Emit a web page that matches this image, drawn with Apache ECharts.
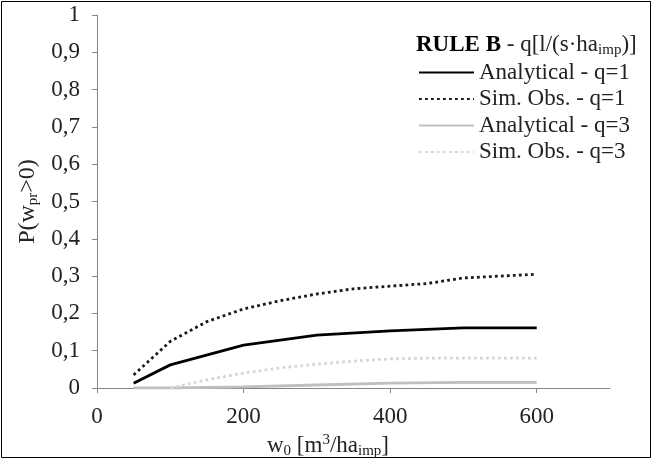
<!DOCTYPE html>
<html>
<head>
<meta charset="utf-8">
<script src="https://cdn.jsdelivr.net/npm/echarts@6/dist/echarts.min.js"></script>
<style>html,body{margin:0;padding:0;background:#fff}#c{width:652px;height:459px}</style>
</head>
<body>
<div id="c"></div>
<script>
const xTicks = [0, 200, 400, 600];
const yTicks = [0, 0.1, 0.2, 0.3, 0.4, 0.5, 0.6, 0.7, 0.8, 0.9, 1];
const analyticalQ1X = [50, 100, 200, 300, 400, 500, 600];
const analyticalQ1 = [0.013, 0.062, 0.115, 0.142, 0.153, 0.161, 0.161];
const simQ1X = [50, 100, 150, 200, 250, 300, 350, 400, 450, 500, 550, 600];
const simQ1 = [0.035, 0.125, 0.178, 0.212, 0.234, 0.252, 0.266, 0.273, 0.28, 0.295, 0.3, 0.305];
const analyticalQ3X = [50, 100, 200, 300, 400, 500, 600];
const analyticalQ3 = [0, 0, 0.003, 0.008, 0.013, 0.015, 0.015];
const simQ3X = [100, 150, 200, 250, 300, 350, 400, 450, 500, 550, 600];
const simQ3 = [0, 0.022, 0.04, 0.054, 0.064, 0.072, 0.078, 0.08, 0.08, 0.08, 0.08];
const names = ['Analytical - q=1', 'Sim. Obs. - q=1', 'Analytical - q=3', 'Sim. Obs. - q=3'];

const zip = (xs, ys) => xs.map((x, i) => [x, ys[i]]);
const F = 'Liberation Serif';
const TXT = '#222';
const FS = 23;
const SUB = 15;
const axisGray = '#868686';
const chart = echarts.init(document.getElementById('c'));
chart.setOption({
  animation: false,
  textStyle: { fontFamily: F },
  grid: { left: 97, right: 42, top: 15, bottom: 71, outerBoundsMode: 'none', containLabel: false },
  xAxis: {
    type: 'value', min: 0, max: 700, interval: 200,
    axisLine: { lineStyle: { color: axisGray, width: 1 } },
    axisTick: { customValues: xTicks, length: 5, lineStyle: { color: axisGray } },
    axisLabel: { customValues: xTicks, fontFamily: F, fontSize: FS, color: TXT, margin: 17 },
    splitLine: { show: false },
    name: '{a|w}{sub|0}{a| [m}{sup|3}{a|/ha}{sub|imp}{a|]}',
    nameLocation: 'middle', nameGap: 32,
    nameTextStyle: {
      padding: [0, 51, 0, 0],
      rich: {
        a: { fontFamily: F, fontSize: FS, color: TXT, lineHeight: 26, verticalAlign: 'middle' },
        sub: { fontFamily: F, fontSize: SUB, color: TXT, lineHeight: 15, verticalAlign: 'bottom', padding: [9, 0, 0, 0] },
        sup: { fontFamily: F, fontSize: SUB, color: TXT, lineHeight: 15, verticalAlign: 'top', padding: [0, 0, 9, 0] }
      }
    }
  },
  yAxis: {
    type: 'value', min: 0, max: 1, interval: 0.1,
    axisLine: { show: true, lineStyle: { color: axisGray, width: 1 } },
    axisTick: { show: true, length: 5, lineStyle: { color: axisGray } },
    axisLabel: { fontFamily: F, fontSize: FS, color: TXT, margin: 17,
      formatter: v => String(Math.round(v * 10) / 10).replace('.', ',') },
    splitLine: { show: false },
    name: '{a|P(w}{sub|pr}{a|>0)}',
    nameLocation: 'middle', nameGap: 52, nameRotate: 90,
    nameTextStyle: {
      rich: {
        a: { fontFamily: F, fontSize: 24, color: TXT, lineHeight: 26, verticalAlign: 'middle' },
        sub: { fontFamily: F, fontSize: SUB, color: TXT, lineHeight: 15, verticalAlign: 'bottom', padding: [9, 0, 0, 0] }
      }
    }
  },
  legend: {
    orient: 'vertical', left: 418, top: 61, padding: 0,
    itemWidth: 55, itemHeight: 14, itemGap: 3.5,
    data: names,
    itemStyle: { opacity: 0 },
    textStyle: { fontFamily: F, fontSize: FS, color: TXT, lineHeight: 23 }
  },
  title: {
    left: 416, top: 32, padding: 0,
    text: '{b|RULE B}{a| - q[l/(s·ha}{sub|imp}{a|)]}',
    textStyle: {
      fontWeight: 'normal',
      rich: {
        b: { fontFamily: F, fontSize: FS, fontWeight: 'bold', color: '#000', lineHeight: 26, verticalAlign: 'middle' },
        a: { fontFamily: F, fontSize: FS, fontWeight: 'normal', color: TXT, lineHeight: 26, verticalAlign: 'middle' },
        sub: { fontFamily: F, fontSize: SUB, fontWeight: 'normal', color: TXT, lineHeight: 15, verticalAlign: 'bottom', padding: [9, 0, 0, 0] }
      }
    }
  },
  graphic: [{
    type: 'rect', shape: { x: 1.5, y: 1.5, width: 649, height: 456 },
    style: { fill: 'none', stroke: '#000', lineWidth: 1 }, silent: true
  }],
  series: [
    { name: names[0], type: 'line', symbol: 'none', data: zip(analyticalQ1X, analyticalQ1),
      lineStyle: { color: '#000', width: 2.8 }, itemStyle: { color: '#000' } },
    { name: names[1], type: 'line', symbol: 'none', data: zip(simQ1X, simQ1),
      lineStyle: { color: '#1a1a1a', width: 2.8, type: [2.8, 3.2] }, itemStyle: { color: '#1a1a1a' } },
    { name: names[2], type: 'line', symbol: 'none', data: zip(analyticalQ3X, analyticalQ3),
      lineStyle: { color: '#bfbfbf', width: 2.8 }, itemStyle: { color: '#bfbfbf' } },
    { name: names[3], type: 'line', symbol: 'none', data: zip(simQ3X, simQ3),
      lineStyle: { color: '#d6d6d6', width: 2.8, type: [2.8, 3.2] }, itemStyle: { color: '#d6d6d6' } }
  ]
});
</script>
</body>
</html>
